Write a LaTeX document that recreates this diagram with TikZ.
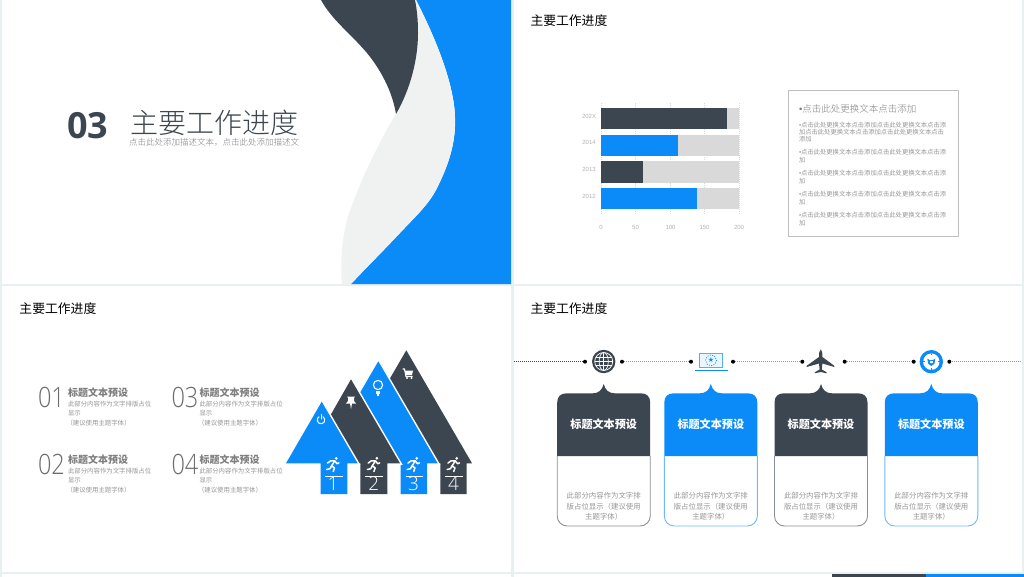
\documentclass[tikz,border=0pt]{standalone}
\usepackage{fontspec}
\setmainfont{Noto Sans CJK SC}
\newfontfamily\cjklight{Noto Sans CJK SC Light}
\newfontfamily\numbold{Open Sans}[BoldFont={Open Sans Bold}]
\newfontfamily\numlight{Open Sans Light}
\newfontfamily\latin{Liberation Sans}
\usetikzlibrary{calc}
\definecolor{dk}{HTML}{3C4650}
\definecolor{bl}{HTML}{0A8BF8}
\definecolor{lg}{HTML}{F0F2F2}
\definecolor{cg}{HTML}{D9D9D9}
\definecolor{bg}{HTML}{EAF0F2}
\definecolor{tg}{HTML}{969696}
\definecolor{hg}{HTML}{7F7F7F}
\newcommand\fs[1]{\fontsize{#1}{#1}\selectfont}
\newcommand\bu{{\latin •}}
\tikzset{
  txt/.style={inner sep=0pt,outer sep=0pt},
  lt/.style={txt,anchor=west},
  ct/.style={txt,anchor=center},
  slidetitle/.style={lt,text=black,font=\fs{12.8}},
  axislbl/.style={ct,text=black!30,font=\latin\fs{6}},
  boxtxt/.style={lt,text=tg,font=\fs{6.3}},
  numlbl/.style={lt,text=black!58,font=\numlight\fs{28},xscale=.84},
  headlbl/.style={lt,text=hg,font=\fs{10}\bfseries},
  bodylbl/.style={lt,text=tg,font=\fs{6.4}},
  cardhead/.style={ct,text=white,font=\fs{11.1}\bfseries},
  cardbody/.style={ct,text=tg,font=\fs{7.4}},
  digit/.style={ct,text=white,font=\numlight\fs{19}},
  blackdot/.style={circle,fill=black,inner sep=0pt,minimum size=4pt},
  tl/.style={line width=.8pt,dash pattern=on 1pt off 1pt,draw=#1},
  arrowshape/.style={fill=#1,preaction={draw=white,line width=3pt}},
  runner/.pic={
    \fill[white] (3.2,-6.2) circle (1.5);
    \draw[white,line width=1.5pt,line cap=round,line join=round]
      (-5.5,-1.4)--(-2.5,-3.6)--(1.8,-3.6)--(4,-.8)--(6,-1.6)
      (1.8,-3.6)--(-1.5,1.4)--(1.5,3.3)--(.2,7)
      (-1.5,1.4)--(-3,4.2)--(-6.3,5);
  },
  card/.pic={
    \fill[fill=#1] (-46.5,456) -- (-46.5,402.5) .. controls (-46.5,396.5) and (-43,393.3) .. (-37,393.3)
      -- (-11,393.3) .. controls (-5,393.3) and (-1.5,390) .. (0,384)
      .. controls (1.5,390) and (5,393.3) .. (11,393.3) -- (37,393.3)
      .. controls (43,393.3) and (46.5,396.5) .. (46.5,402.5) -- (46.5,456) -- cycle;
    \draw[#1!60!white,line width=.9pt,rounded corners=10pt] (-46.5,456) -- (-46.5,526) -- (46.5,526) -- (46.5,456);
  },
}
\begin{document}
\begin{tikzpicture}[x=1pt,y=-1pt]
\useasboundingbox (0,0) rectangle (1024,577);
\fill[bg] (0,0) rectangle (1024,577);
\fill[white] (2,0) rectangle (511,284);
\fill[white] (513.5,0) rectangle (1021.7,284);
\fill[white] (2,286) rectangle (511,571.5);
\fill[white] (513.5,286) rectangle (1021.7,571.5);
\fill[white] (2,574) rectangle (511,577);
\fill[white] (513.5,574) rectangle (1021.7,577);
\fill[dk] (831.5,574) rectangle (926,577);
\fill[bl] (926,574) rectangle (1024,577);

% slide 1
\fill[bl] (416,0) -- (511,0) -- (511,284) -- (351,284)
  .. controls (368,266) and (385,249) .. (400,233)
  .. controls (416,216) and (428,205) .. (436,190)
  .. controls (450,163) and (456,140) .. (455,117)
  .. controls (454,82) and (434,35) .. (416,0) -- cycle;
\fill[lg] (416,0) .. controls (434,35) and (454,82) .. (455,117)
  .. controls (456,140) and (450,163) .. (436,190)
  .. controls (428,205) and (416,216) .. (400,233)
  .. controls (385,249) and (368,266) .. (351,284)
  -- (342,284) .. controls (340,262) and (342,240) .. (347,220)
  .. controls (356,190) and (378,143) .. (396,114) -- cycle;
\fill[dk] (321,0) .. controls (332,20) and (350,33) .. (367,53)
  .. controls (380,69) and (392,90) .. (396,114)
  .. controls (410,90) and (418,60) .. (418,33)
  .. controls (418,20) and (417,10) .. (415,0) -- cycle;
\node[lt,text=dk,font=\numbold\bfseries\fs{36}] (n03) at (67,126) {03};
\node[lt,text=dk,font=\cjklight\fs{28}] (t03) at (130.5,123) {主要工作进度};
\node[lt,text=hg,font=\cjklight\fs{8.5}] (s03) at (129,142) {点击此处添加描述文本，点击此处添加描述文};

% slide 2
\node[slidetitle] (t2) at (530.5,20.7) {主要工作进度};
\foreach \x/\n in {601/0,635.5/50,670.5/100,704.5/150,739/200}{
  \draw[cg,line width=.6pt,dash pattern=on 1pt off 1pt] (\x,103) -- (\x,215);
  \node[axislbl] (ax\n) at (\x,227) {\n};
}
\fill[cg] (601,108) rectangle (739.3,129.3);
\fill[cg] (601,134.7) rectangle (739.3,156);
\fill[cg] (601,161) rectangle (739.3,182.7);
\fill[cg] (601,187.7) rectangle (739.3,209);
\fill[dk] (601,108) rectangle (726.7,129.3);
\fill[bl] (601,134.7) rectangle (678.3,156);
\fill[dk] (601,161) rectangle (643.3,182.7);
\fill[bl] (601,187.7) rectangle (696.7,209);
\node[axislbl] (c4) at (589,116) {202X};
\node[axislbl] (c3) at (589,142.5) {2014};
\node[axislbl] (c2) at (589,169) {2013};
\node[axislbl] (c1) at (589,196) {2012};

\draw[black!25,line width=.8pt] (788.5,90) rectangle (958.5,236);
\node[lt,text=hg,font=\cjklight\fs{9.5}] (bh) at (799,108.5) {\bu 点击此处更换文本点击添加};
\node[boxtxt] (b1a) at (799,125) {\bu 点击此处更换文本点击添加点击此处更换文本点击添};
\node[boxtxt] (b1b) at (799,132) {加点击此处更换文本点击添加点击此处更换文本点击};
\node[boxtxt] (b1c) at (799,139) {添加};
\node[boxtxt] (b2a) at (799,152) {\bu 点击此处更换文本点击添加点击此处更换文本点击添};
\node[boxtxt] (b2b) at (799,160.5) {加};
\node[boxtxt] (b3a) at (799,173) {\bu 点击此处更换文本点击添加点击此处更换文本点击添};
\node[boxtxt] (b3b) at (799,181.5) {加};
\node[boxtxt] (b4a) at (799,194) {\bu 点击此处更换文本点击添加点击此处更换文本点击添};
\node[boxtxt] (b4b) at (799,202.5) {加};
\node[boxtxt] (b5a) at (799,215) {\bu 点击此处更换文本点击添加点击此处更换文本点击添};
\node[boxtxt] (b5b) at (799,223.5) {加};

% slide 3
\node[slidetitle] (t3) at (19.5,308.7) {主要工作进度};
\foreach \x/\nx/\y/\nm in {68/38/0/01,68/38/67/02,199.5/171.5/0/03,199.5/171.5/67/04}{
  \node[numlbl] (num\nm) at (\nx,397+\y) {\nm};
  \node[headlbl] (hd\nm) at (\x,393+\y) {标题文本预设};
  \node[bodylbl] (ba\nm) at (\x,404+\y) {此部分内容作为文字排版占位};
  \node[bodylbl] (bb\nm) at (\x,413+\y) {显示};
  \node[bodylbl] (bc\nm) at (\x-1.5,423+\y) {（建议使用主题字体）};
}
% arrows, back to front
\path[arrowshape=dk] (406.3,350.3) -- (472,463.3) -- (466.7,463.3) -- (466.7,494) -- (440.3,494) -- (440.3,463.3) -- (340.6,463.3) -- cycle;
\path[arrowshape=bl] (378.3,361.3) -- (437.7,463.3) -- (427,463.3) -- (427,494) -- (400.7,494) -- (400.7,463.3) -- (319,463.3) -- cycle;
\path[arrowshape=dk] (351,379.3) -- (400,463.3) -- (387.3,463.3) -- (387.3,494) -- (360.3,494) -- (360.3,463.3) -- (303,463.3) -- cycle;
\path[arrowshape=bl] (321.7,401.7) -- (357.7,463.3) -- (347.3,463.3) -- (347.3,494) -- (320.7,494) -- (320.7,463.3) -- (286,463.3) -- cycle;
\foreach \x/\d/\lo/\hi in {333/1/325/342.7,373.7/2/365/383,413.5/3/405.5/423,453.5/4/445/463}{
  \pic at (\x,464.5) {runner};
  \draw[white,line width=.6pt] (\lo,476) -- (\hi,476);
  \node[digit] (dg\d) at (\x,483.7) {\d};
}
% power
\draw[white,line width=1pt,line cap=round] (322.9,416.7) arc[start angle=-60,end angle=240,radius=3.8];
\draw[white,line width=1pt,line cap=round] (321,414.5) -- (321,419);
% pin
\fill[white] (347,396.5) -- (355,396.5) -- (354,398) -- (354,401) -- (356,403.5) -- (352,403.5) -- (351,409) -- (350,403.5) -- (346,403.5) -- (348,401) -- (348,398) -- cycle;
% bulb
\draw[white,line width=1.1pt] (378,385) circle (4.6);
\fill[white] (375.6,390.6) rectangle (380.4,393.6);
\fill[white] (376.6,394) rectangle (379.4,395.5);
% cart
\draw[white,line width=1.1pt] (402.5,369) -- (404.5,369) -- (406,376.5) -- (412.5,376.5);
\fill[white] (405,370.5) -- (413,370.5) -- (412,375) -- (406,375) -- cycle;
\fill[white] (407,378) circle (1.2) (411.5,378) circle (1.2);

% slide 4
\node[slidetitle] (t4) at (530.5,308.7) {主要工作进度};
\coordinate (ls) at (513.5,361.7);
\coordinate (le) at (1021.5,361.7);
\node[blackdot] (d1) at (585,361.7) {};
\node[blackdot] (d2) at (622,361.7) {};
\node[blackdot] (d3) at (691,361.7) {};
\node[blackdot] (d4) at (733,361.7) {};
\node[blackdot] (d5) at (802.3,361.7) {};
\node[blackdot] (d6) at (844.7,361.7) {};
\node[blackdot] (d7) at (913.7,361.7) {};
\node[blackdot] (d8) at (949.3,361.7) {};
\draw[tl=dk] (ls) -- (d1);
\draw[tl=black!40] (d2) -- (d3);
\draw[tl=black!40] (d4) -- (d5);
\draw[tl=black!40] (d6) -- (d7);
\draw[tl=black!40] (d8) -- (le);
% globe
\fill[dk] (603.7,361.5) circle (11.7);
\begin{scope}[white,line width=.7pt]
\draw (603.7,361.5) circle [x radius=4.6,y radius=9];
\draw (603.7,361.5) circle [x radius=9,y radius=9];
\draw (603.7,352.5) -- (603.7,370.5);
\draw (595.5,357.5) -- (611.9,357.5) (594.7,361.5) -- (612.7,361.5) (595.5,365.5) -- (611.9,365.5);
\end{scope}
% laptop
\draw[bl!70!white,fill=bl!8,line width=.9pt] (699,353.3) rectangle (722.5,367.7);
\draw[bl,line width=1pt] (695,370.5) -- (727.7,370.5);
\node[ct,text=bl,font=\fontspec{DejaVu Sans}\fs{7}] (star) at (711,360.3) {★};
\draw[bl,line width=.7pt,dash pattern=on 1pt off 1.4pt] (711,360.3) circle (5.5);
% plane
\fill[dk] (820.7,349.3) .. controls (822.2,351) and (822.4,353) .. (822.4,357)
  -- (834.3,365.8) -- (834.3,367) -- (822.4,363.5) -- (821.8,369.5) -- (826.5,372.2) -- (826.5,373.3)
  -- (820.7,372) -- (814.9,373.3) -- (814.9,372.2) -- (819.6,369.5) -- (819,363.5) -- (806.7,367) -- (806.7,365.8) -- (819,357)
  .. controls (819,353) and (819.2,351) .. (820.7,349.3) -- cycle;
% clock
\fill[bl] (931.3,361.7) circle (11.7);
\fill[white] (931.3,361.7) circle (8.2);
\fill[bl] (927.3,358.5) -- (929.5,360) -- (933,360) -- (935.3,358.5) -- (934.5,363.5) -- (931.3,366) -- (928.1,363.5) -- cycle;
\fill[white] (930,361) rectangle (932.6,362.8);
\foreach \a in {0,90,180,270}{
  \draw[bl,line width=.8pt] ($(931.3,361.7)+(\a:8.2)$) -- ($(931.3,361.7)+(\a:6.7)$);
}
% cards
\pic at (603.7,0) {card=dk};
\pic at (710.8,0) {card=bl};
\pic at (821,0) {card=dk};
\pic at (931.3,0) {card=bl};
\foreach \x/\i in {603.7/1,710.8/2,821/3,931.3/4}{
  \node[cardhead] (ch\i) at (\x,424) {标题文本预设};
  \node[cardbody] (ca\i) at (\x,495.5) {此部分内容作为文字排};
  \node[cardbody] (cb\i) at (\x,506.2) {版占位显示（建议使用};
  \node[cardbody] (cc\i) at (\x,517) {主题字体）};
}
\end{tikzpicture}
\end{document}
